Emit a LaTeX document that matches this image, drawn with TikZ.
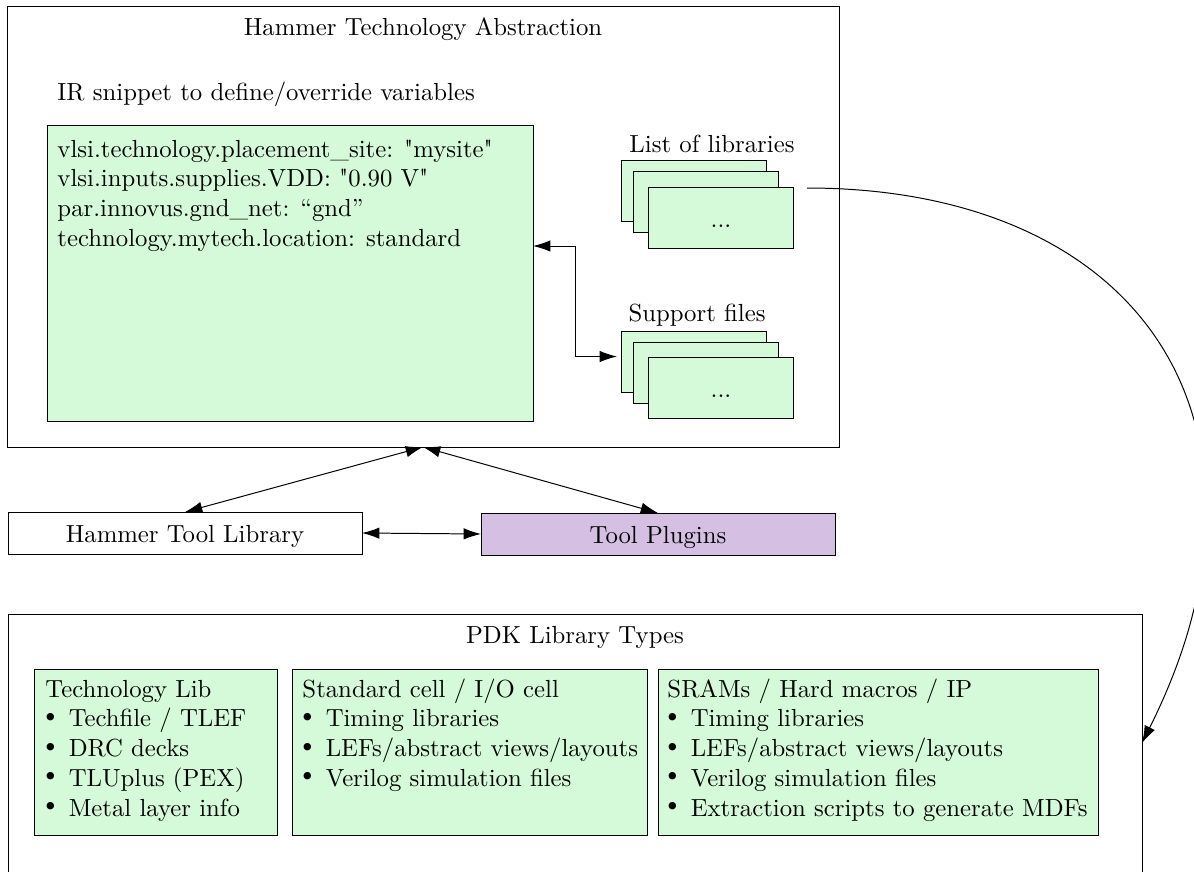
\documentclass[tikz,border=0pt]{standalone}
\usetikzlibrary{arrows.meta,calc}

\definecolor{mint}{RGB}{213,250,217}
\definecolor{lilac}{RGB}{213,191,226}

% Latin Modern without the TeX ligature mapping, for straight double quotes
\font\lmplain="[lmroman10-regular]" at 10pt
\newcommand\sq{{\lmplain\char34}}
\newcommand\itembul{\makebox[9.4pt][l]{\raisebox{2.2pt}{\scriptsize$\bullet$}}}

\tikzset{
  x=0.4042pt, y=-0.4042pt,
  wh/.style 2 args={minimum width={#1*0.4042pt}, minimum height={#2*0.4042pt}},
  frame/.style={draw=black, line width=0.4pt, inner sep=0pt, outer sep=0pt, anchor=north west},
  greenbox/.style={frame, fill=mint},
  toolbox/.style={frame, text height=7.3pt, text depth=0pt},
  titletext/.style={inner sep=0pt, anchor=base},
  listing/.style={inner sep=0pt, anchor=north west, align=left},
  dbl/.style={{Latex[length=7pt,width=4.6pt]}-{Latex[length=7pt,width=4.6pt]}},
}

\begin{document}
\begin{tikzpicture}
\useasboundingbox (0,0) rectangle (1194,871);

% ---- Hammer technology abstraction ----
\node[frame, wh={832}{441}] (hta) at (7,6) {};
\node[titletext] (htatitle) at (423,35) {Hammer Technology Abstraction};
\node[titletext, anchor=base west] (irtitle) at (57,100) {IR snippet to define/override variables};

\node[greenbox, wh={486}{296}] (irbox) at (47,125) {};
\node[listing] (irtext) at (57,136) {\strut vlsi.technology.placement\_site: \sq mysite\sq\\
  vlsi.inputs.supplies.VDD: \sq 0.90 V\sq\\
  par.innovus.gnd\_net: “gnd”\\
  technology.mytech.location: standard};

% list of libraries (stacked cards)
\node[titletext] (libtitle) at (712,152) {List of libraries};
\node[greenbox, wh={145}{61}] (lib1) at (621,160) {};
\node[greenbox, wh={145}{61}] (lib2) at (633,171) {};
\node[greenbox, wh={145}{61}] (lib3) at (648,187) {};
\node[titletext] (libdots) at (721,227) {...};

% support files (stacked cards)
\node[titletext] (suptitle) at (697,321) {Support files};
\node[greenbox, wh={145}{61}] (sup1) at (621,331) {};
\node[greenbox, wh={145}{61}] (sup2) at (633,342) {};
\node[greenbox, wh={145}{61}] (sup3) at (648,357) {};
\node[titletext] (supdots) at (721,397) {...};

\draw[dbl] ($(irbox.east)+(0,-27)$) -- ++(42,0) |- ($(sup1.west)+(-4,-5)$);

% ---- tool layer ----
\node[toolbox, wh={354}{42}] (htl) at (8,512) {Hammer Tool Library};
\node[toolbox, fill=lilac, wh={354}{42}] (plug) at (481,513) {Tool Plugins};

\draw[dbl] (htl.north) -- (hta.south);
\draw[dbl] (plug.north) -- (hta.south);
\draw[dbl] (htl.east) -- (plug.west);

% ---- PDK library types ----
\node[frame, wh={1134}{258}] (pdk) at (8,614) {};
\node[titletext] (pdktitle) at (575,643) {PDK Library Types};

\node[greenbox, wh={243}{166}] (techlib) at (34,669) {};
\node[listing] (techtext) at (45,676) {\strut Technology Lib\\
  \itembul Techfile / TLEF\\
  \itembul DRC decks\\
  \itembul TLUplus (PEX)\\
  \itembul Metal layer info};

\node[greenbox, wh={355}{166}] (stdcell) at (292,669) {};
\node[listing] (stdtext) at (302,676) {\strut Standard cell / I/O cell\\
  \itembul Timing libraries\\
  \itembul LEFs/abstract views/layouts\\
  \itembul Verilog simulation files};

\node[greenbox, wh={440}{166}] (sram) at (658,669) {};
\node[listing] (sramtext) at (667,676) {\strut SRAMs / Hard macros / IP\\
  \itembul Timing libraries\\
  \itembul LEFs/abstract views/layouts\\
  \itembul Verilog simulation files\\
  \itembul Extraction scripts to generate MDFs};

% libraries feed the PDK library types
\coordinate (swing) at (1206,510);
\draw[-{Latex[length=7pt,width=4.6pt]}] ($(lib3.north east)+(14,1)$)
  .. controls (1047,188) and (1206,310) .. (swing)
  .. controls (1206,590) and (1182,663) .. (pdk.east);
\end{tikzpicture}
\end{document}
